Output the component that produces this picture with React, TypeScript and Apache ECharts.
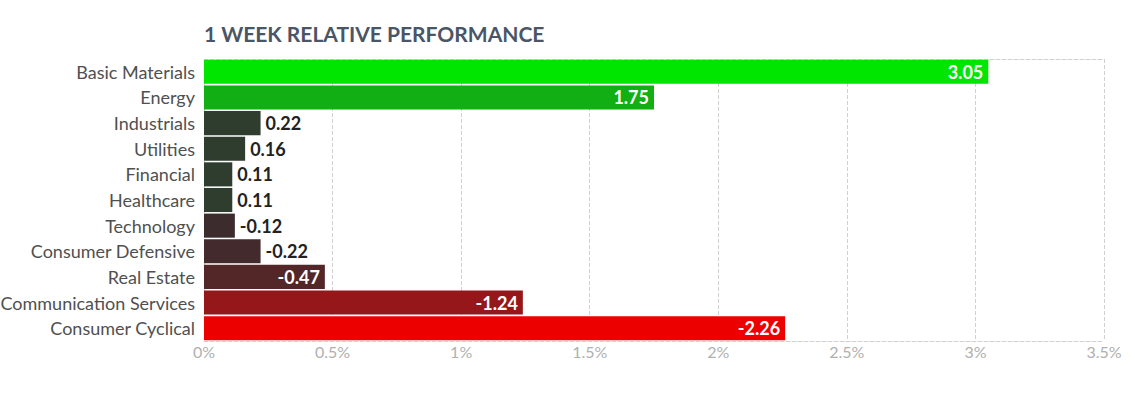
import React, { useEffect, useRef } from "react";
import * as echarts from "echarts";

const categories = [
  "Basic Materials",
  "Energy",
  "Industrials",
  "Utilities",
  "Financial",
  "Healthcare",
  "Technology",
  "Consumer Defensive",
  "Real Estate",
  "Communication Services",
  "Consumer Cyclical",
];
const values = [3.05, 1.75, 0.22, 0.16, 0.11, 0.11, -0.12, -0.22, -0.47, -1.24, -2.26];
const barColors = [
  "#00e600",
  "#11ae14",
  "#2e3d2e",
  "#2e3d2e",
  "#2e3d2e",
  "#2e3d2e",
  "#3d2c2e",
  "#432a2c",
  "#532628",
  "#96171a",
  "#ec0000",
];
const xTicks = [0, 0.5, 1, 1.5, 2, 2.5, 3, 3.5];
const title = "1 WEEK RELATIVE PERFORMANCE";

export default function App() {
  const ref = useRef<HTMLDivElement>(null);
  useEffect(() => {
    document.body.style.margin = "0";
    if (!ref.current) return;
    const chart = echarts.init(ref.current, null, { renderer: "svg" });
    const font = "Lato, 'Noto Sans', sans-serif";
    chart.setOption({
      animation: false,
      textStyle: { fontFamily: font },
      title: {
        text: title,
        left: 199,
        top: 18,
        textStyle: { fontFamily: font, fontSize: 21, fontWeight: "bold", color: "#4a5566" },
      },
      grid: { left: 204, right: 31, top: 59, bottom: 57, containLabel: false, outerBoundsMode: "none" },
      xAxis: [
        {
          type: "value",
          min: xTicks[0],
          max: xTicks[xTicks.length - 1],
          interval: 0.5,
          axisLine: { show: true, lineStyle: { color: "#d0d0d0", type: "dashed" } },
          axisTick: { show: false },
          axisLabel: {
            color: "#b0b0b0",
            fontSize: 16,
            fontFamily: font,
            margin: 2,
            formatter: (v: number) => `${v}%`,
          },
          splitLine: { show: true, lineStyle: { color: "#d0d0d0", type: "dashed" } },
        },
        {
          type: "value",
          position: "top",
          min: xTicks[0],
          max: xTicks[xTicks.length - 1],
          interval: 0.5,
          axisLine: { show: true, lineStyle: { color: "#d0d0d0", type: "dashed" } },
          axisTick: { show: false },
          axisLabel: { show: false },
          splitLine: { show: false },
        },
      ],
      yAxis: {
        type: "category",
        inverse: true,
        data: categories,
        axisLine: { show: false },
        axisTick: { show: false },
        axisLabel: { color: "#505050", fontSize: 18, fontFamily: font, margin: 9 },
      },
      series: [
        {
          type: "bar",
          xAxisIndex: 0,
          barCategoryGap: "6%",
          data: values.map((v, i) => {
            const inside = Math.abs(v) > 0.3;
            return {
              value: Math.abs(v),
              itemStyle: { color: barColors[i] },
              label: {
                show: true,
                position: inside ? "insideRight" : "right",
                distance: 5,
                color: inside ? "#ffffff" : "#222222",
                fontSize: 18,
                fontWeight: "bold",
                fontFamily: font,
                formatter: () => v.toFixed(2),
              },
            };
          }),
        },
      ],
    });
    return () => chart.dispose();
  }, []);
  return <div ref={ref} style={{ width: 1135, height: 398 }} />;
}
